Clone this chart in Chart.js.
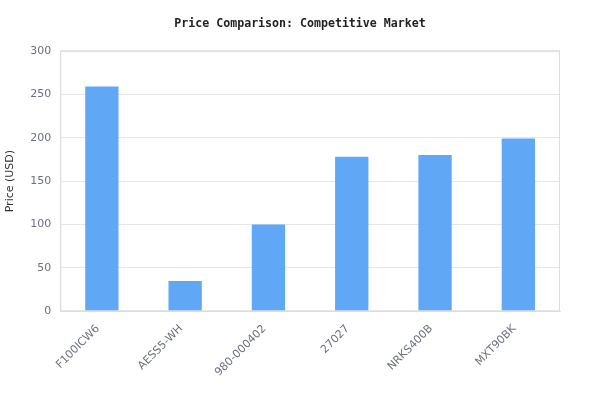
<!DOCTYPE html>
<html>
<head>
<meta charset="utf-8">
<script src="https://cdn.jsdelivr.net/npm/chart.js@4"></script>
<style>
  html, body { margin: 0; padding: 0; background: #fff; }
  .chart-container { position: relative; width: 600px; height: 420px; }
</style>
</head>
<body>
<div class="chart-container">
  <canvas id="myChart"></canvas>
</div>
<script>
var products = ["F100ICW6", "AESS5-WH", "980-000402", "27027", "NRKS400B", "MXT90BK"];
var prices = [259, 35, 100, 178, 180, 199];
var yTicks = [0, 50, 100, 150, 200, 250, 300];

// box round the plot area (top and right edges too)
var frame = {
  id: 'frame',
  afterDraw: function (chart) {
    var a = chart.chartArea;
    var ctx = chart.ctx;
    ctx.save();
    ctx.strokeStyle = '#dcdcdc';
    ctx.lineWidth = 1;
    ctx.strokeRect(a.left + 0.5, a.top + 0.5, a.right - a.left - 1, a.bottom - a.top - 1);
    ctx.restore();
  }
};

var options = {
  responsive: true,
  maintainAspectRatio: false,
  animation: false,
  layout: {
    padding: { left: 0, right: 0, top: 6, bottom: 38 }
  },
  plugins: {
    legend: { display: false },
    tooltip: { enabled: false },
    title: {
      display: true,
      text: 'Price Comparison: Competitive Market',
      color: '#222',
      font: { family: "'DejaVu Sans Mono'", size: 11.6, weight: 'bold' },
      padding: { top: 11, bottom: 20 }
    }
  },
  scales: {
    x: {
      grid: { display: false },
      border: { color: '#dcdcdc' },
      ticks: {
        color: '#6b7080',
        font: { family: "'DejaVu Sans'", size: 11 },
        maxRotation: 45,
        minRotation: 45,
        labelOffset: -4
      }
    },
    y: {
      min: 0,
      max: 300,
      afterBuildTicks: function (axis) {
        axis.ticks = yTicks.map(function (v) { return { value: v }; });
      },
      grid: { color: '#e6e6e6', drawTicks: false },
      border: { color: '#dcdcdc' },
      ticks: {
        color: '#6b7080',
        font: { family: "'DejaVu Sans'", size: 11 },
        padding: 9
      },
      title: {
        display: true,
        text: 'Price (USD)',
        color: '#333',
        font: { family: "'DejaVu Sans'", size: 11 },
        padding: { top: 4, bottom: 4 }
      }
    },
    // empty right gutter so the title stays centred on the page
    gutter: {
      position: 'right',
      grid: { display: false },
      border: { display: false },
      ticks: { display: false },
      afterFit: function (axis) { axis.width = 40; }
    }
  }
};

var data = {
  labels: products,
  datasets: [
    {
      label: 'Price',
      data: prices,
      backgroundColor: '#60a8f5',
      barPercentage: 0.5,
      categoryPercentage: 0.8
    }
  ]
};

new Chart(document.getElementById('myChart'), {
  type: 'bar',
  data: data,
  options: options,
  plugins: [frame]
});
</script>
</body>
</html>
